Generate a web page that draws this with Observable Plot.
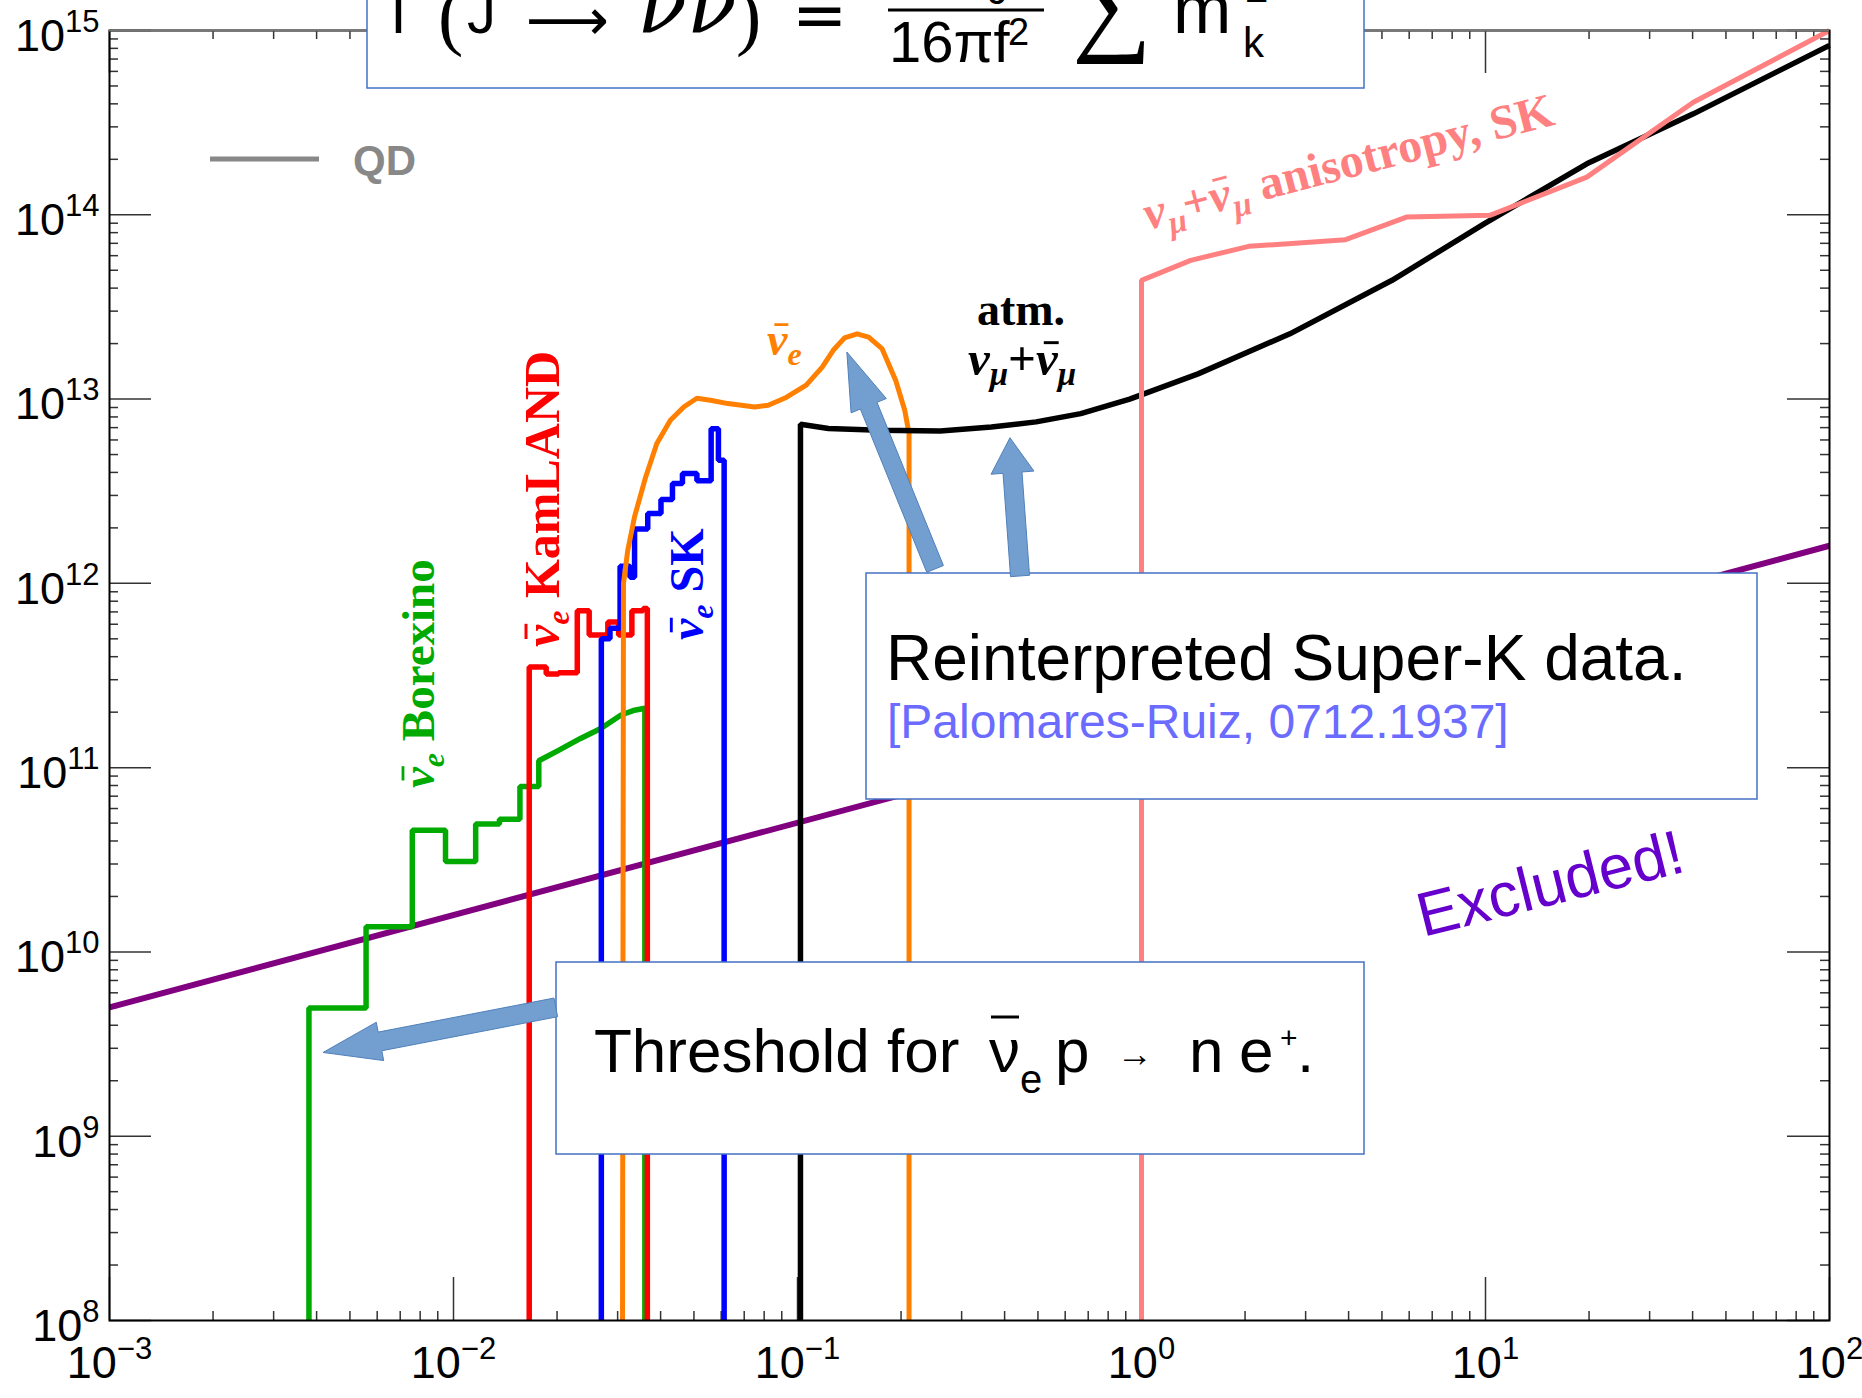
<!DOCTYPE html>
<html><head><meta charset="utf-8">
<script src="https://cdn.jsdelivr.net/npm/d3@7"></script>
<script src="https://cdn.jsdelivr.net/npm/@observablehq/plot@0.6"></script>
<style>
html,body{margin:0;padding:0;background:#fff;overflow:hidden;}
#chart{position:relative;width:1862px;height:1398px;}
</style></head><body><div id="chart"></div>
<script>
// ---------------- data ----------------
const xTicksMajor = [1e-3, 1e-2, 1e-1, 1, 10, 100];
const yTicksMajor = [1e8, 1e9, 1e10, 1e11, 1e12, 1e13, 1e14, 1e15];
const minorMultipliers = [2, 3, 4, 5, 6, 7, 8, 9];

// Excluded line (purple)
const excludedX = [1e-3, 1e2];
const excludedY = [5.0e9, 1.6e12];

// anti-nu_e Borexino (green)
const borexinoX = [3.8e-3,3.8e-3,5.57e-3,5.57e-3,7.59e-3,7.59e-3,9.48e-3,9.48e-3,1.16e-2,1.16e-2,1.36e-2,1.36e-2,1.56e-2,1.56e-2,1.77e-2,1.77e-2,2.02e-2,2.34e-2,2.68e-2,3.07e-2,3.36e-2,3.6e-2,3.6e-2];
const borexinoY = [1e8,4.97e9,4.97e9,1.37e10,1.37e10,4.57e10,4.57e10,3.1e10,3.1e10,4.95e10,4.95e10,5.25e10,5.25e10,7.9e10,7.9e10,1.09e11,1.24e11,1.44e11,1.63e11,1.93e11,2.05e11,2.1e11,1e8];

// anti-nu_e KamLAND (red)
const kamlandX = [1.66e-2,1.66e-2,1.86e-2,1.86e-2,2.02e-2,2.02e-2,2.29e-2,2.29e-2,2.48e-2,2.48e-2,2.81e-2,2.81e-2,3.02e-2,3.02e-2,3.30e-2,3.30e-2,3.56e-2,3.56e-2,3.66e-2,3.66e-2];
const kamlandY = [1e8,3.52e11,3.52e11,3.22e11,3.22e11,3.27e11,3.27e11,7.1e11,7.1e11,5.24e11,5.24e11,6.18e11,6.18e11,5.24e11,5.24e11,7.1e11,7.1e11,7.3e11,7.3e11,1e8];

// anti-nu_e SK (blue)
const skX = [2.69e-2,2.69e-2,2.85e-2,2.85e-2,3.05e-2,3.05e-2,3.26e-2,3.26e-2,3.36e-2,3.36e-2,3.67e-2,3.67e-2,4.01e-2,4.01e-2,4.33e-2,4.33e-2,4.63e-2,4.63e-2,5.1e-2,5.1e-2,5.61e-2,5.61e-2,5.89e-2,5.89e-2,6.12e-2,6.12e-2];
const skY = [1e8,5.0e11,5.0e11,5.7e11,5.7e11,1.24e12,1.24e12,1.08e12,1.08e12,1.97e12,1.97e12,2.39e12,2.39e12,2.85e12,2.85e12,3.48e12,3.48e12,3.94e12,3.94e12,3.6e12,3.6e12,6.9e12,6.9e12,4.66e12,4.66e12,1e8];

// reinterpreted anti-nu_e (orange)
const nuebarX = [3.1e-2,3.12e-2,3.21e-2,3.36e-2,3.62e-2,3.90e-2,4.27e-2,4.67e-2,5.10e-2,5.58e-2,6.28e-2,7.51e-2,8.22e-2,9.27e-2,0.106,0.118,0.127,0.137,0.149,0.161,0.176,0.193,0.205,0.211,0.211];
const nuebarY = [1e8,1.0e12,1.51e12,2.3e12,3.78e12,5.74e12,7.67e12,9.06e12,1.01e13,9.86e12,9.45e12,9.06e12,9.25e12,1.02e13,1.19e13,1.49e13,1.84e13,2.15e13,2.26e13,2.17e13,1.88e13,1.26e13,8.7e12,6.5e12,1e8];

// atm. nu_mu + anti-nu_mu (black)
const atmX = [0.102,0.102,0.123,0.173,0.26,0.366,0.494,0.666,0.924,1.46,2.7,5.35,9.93,19.7,40.2,100];
const atmY = [1e8,7.3e12,6.92e12,6.78e12,6.72e12,7.06e12,7.52e12,8.34e12,1.0e13,1.37e13,2.26e13,4.41e13,8.95e13,1.89e14,3.53e14,8.3e14];

// nu_mu + anti-nu_mu anisotropy, SK (pink)
const anisoX = [1.0,1.0,1.39,2.05,3.92,5.89,10.3,19.7,40.2,100];
const anisoY = [1e8,4.41e13,5.66e13,6.74e13,7.33e13,9.72e13,9.93e13,1.6e14,4.08e14,1e15];

// arrows (tail, tip) in data coordinates
const arrowTails = [[1.99e-2, 4.97e9], [0.252, 1.19e12], [0.445, 1.09e12]];
const arrowTips  = [[4.19e-3, 2.83e9], [0.1396, 1.79e13], [0.416, 6.13e12]];

// ---------------- layout / styles ----------------
const W = 1862, H = 1398, mL = 109, mR = 33, mT = 30, mB = 78;
const fw = W - mL - mR, fh = H - mT - mB;

const seriesList = [
  {x: excludedX, y: excludedY, stroke: "#800080", w: 6},
  {x: borexinoX, y: borexinoY, stroke: "#00aa00", w: 5.5},
  {x: kamlandX, y: kamlandY, stroke: "#ff0000", w: 5.5},
  {x: skX, y: skY, stroke: "#0000ff", w: 5.5},
  {x: nuebarX, y: nuebarY, stroke: "#ff8000", w: 5},
  {x: atmX, y: atmY, stroke: "#000000", w: 5.5},
  {x: anisoX, y: anisoY, stroke: "#ff8080", w: 5}
];

const xTicksMinor = xTicksMajor.slice(0, -1).flatMap(d => minorMultipliers.map(m => m * d));
const yTicksMinor = yTicksMajor.slice(0, -1).flatMap(d => minorMultipliers.map(m => m * d));
const tickStroke = {stroke: "#333", strokeWidth: 1.5};
const expFormat = d => "10^" + Math.round(Math.log10(d));

const marks = [];
for (const [vals, len] of [[xTicksMajor, 43], [xTicksMinor, 9]]) {
  marks.push(Plot.tickX(vals, {x: d => d, insetTop: fh - len, ...tickStroke}));
  marks.push(Plot.tickX(vals, {x: d => d, insetBottom: fh - len, ...tickStroke}));
}
for (const [vals, len] of [[yTicksMajor, 42], [yTicksMinor, 9]]) {
  marks.push(Plot.tickY(vals, {y: d => d, insetRight: fw - len, ...tickStroke}));
  marks.push(Plot.tickY(vals, {y: d => d, insetLeft: fw - len, ...tickStroke}));
}
for (const s of seriesList) {
  marks.push(Plot.line(s.x.map((x, i) => [x, s.y[i]]), {
    x: d => d[0], y: d => d[1], stroke: s.stroke, strokeWidth: s.w,
    strokeLinejoin: "miter", strokeLinecap: "butt"
  }));
}
marks.push(Plot.frame({stroke: "#000", strokeWidth: 2}));
marks.push(Plot.ruleY([1e15], {stroke: "#777", strokeWidth: 2}));
marks.push(Plot.axisX(xTicksMajor, {anchor: "bottom", tickSize: 0, tickPadding: 26, tickFormat: expFormat, fontSize: 45, label: null}));
marks.push(Plot.axisY(yTicksMajor, {anchor: "left", tickSize: 0, tickPadding: 10, tickFormat: expFormat, fontSize: 45, dy: 6, label: null}));

const chart = Plot.plot({
  width: W, height: H,
  marginLeft: mL, marginRight: mR, marginTop: mT, marginBottom: mB,
  x: {type: "log", domain: [1e-3, 1e2]},
  y: {type: "log", domain: [1e8, 1e15]},
  style: {fontFamily: "'Liberation Sans', Arial, sans-serif", background: "white", color: "black", overflow: "hidden"},
  marks
});
document.getElementById("chart").append(chart);

// ---------------- superscript tick labels ----------------
const NS = "http://www.w3.org/2000/svg";
chart.querySelectorAll('g[aria-label$="tick label"] text').forEach(t => {
  const [b, e] = t.textContent.split("^");
  if (e === undefined) return;
  t.textContent = "";
  const t1 = document.createElementNS(NS, "tspan"); t1.textContent = b; t.append(t1);
  const t2 = document.createElementNS(NS, "tspan");
  t2.setAttribute("font-size", "31"); t2.setAttribute("dy", "-19");
  t2.textContent = e.replace("-", "\u2212"); t.append(t2);
});

// ---------------- annotations ----------------
const svg = d3.select(chart);
const xs = chart.scale("x"), ys = chart.scale("y");
const ann = svg.append("g").attr("text-anchor", "start");
const SANS = "'Liberation Sans', Arial, sans-serif";
const SERIF = "'Liberation Serif', 'Times New Roman', serif";

// rich text: parts may carry {bar:true} to draw an over-bar above that part
function rich(parent, {x, y, rotate = 0, anchor = "start", family = SERIF, size = 46, weight = "bold", fill = "#000"}, parts) {
  const g = parent.append("g").attr("transform", `translate(${x},${y}) rotate(${rotate})`);
  const t = g.append("text").attr("text-anchor", anchor).attr("font-family", family)
    .attr("font-size", size).attr("font-weight", weight).attr("fill", fill);
  let cur = 0, idx = 0;
  const bars = [];
  for (const p of parts) {
    const sh = p.shift || 0;
    const ts = t.append("tspan").text(p.t).attr("dy", sh - cur);
    cur = sh;
    if (p.size) ts.attr("font-size", p.size);
    if (p.style) ts.attr("font-style", p.style);
    if (p.weight) ts.attr("font-weight", p.weight);
    if (p.family) ts.attr("font-family", p.family);
    if (p.bar) bars.push({idx, size: p.size || size, shift: sh});
    idx += p.t.length;
  }
  for (const b of bars) {
    const ext = t.node().getExtentOfChar(b.idx);
    const s = b.size;
    g.append("line")
      .attr("x1", ext.x + 0.16 * s).attr("x2", ext.x + ext.width + 0.02 * s)
      .attr("y1", b.shift - 0.66 * s).attr("y2", b.shift - 0.66 * s)
      .attr("stroke", fill).attr("stroke-width", 0.06 * s);
  }
  return t;
}
const NU = "\u03BD", MU = "\u03BC";
const nuebarParts = (rest) => [{t: NU, style: "italic", bar: true}, {t: "e", style: "italic", size: 32, shift: 10}, {t: rest, shift: 0}];
const numuParts = [{t: NU, style: "italic"}, {t: MU, style: "italic", size: 33, shift: 10}, {t: "+", shift: 0},
  {t: NU, style: "italic", bar: true}, {t: MU, style: "italic", size: 33, shift: 10}];

// boxes
const boxStroke = "#4472c4";
ann.append("rect").attr("x", 367).attr("y", -20).attr("width", 997).attr("height", 108)
  .attr("fill", "#fff").attr("stroke", boxStroke).attr("stroke-width", 1.5);
ann.append("rect").attr("x", 866).attr("y", 573).attr("width", 891).attr("height", 226)
  .attr("fill", "#fff").attr("stroke", boxStroke).attr("stroke-width", 1.5);
ann.append("rect").attr("x", 556).attr("y", 962).attr("width", 808).attr("height", 192)
  .attr("fill", "#fff").attr("stroke", boxStroke).attr("stroke-width", 1.5);

// block arrows
const arrowShape = [[19, 39, 58], [18, 38, 58], [19, 43, 35]];
arrowTails.forEach((tl, i) => {
  const a = [xs.apply(tl[0]), ys.apply(tl[1])];
  const b = [xs.apply(arrowTips[i][0]), ys.apply(arrowTips[i][1])];
  const [sw, hw, hl] = arrowShape[i];
  const L = Math.hypot(b[0] - a[0], b[1] - a[1]);
  const ux = (b[0] - a[0]) / L, uy = (b[1] - a[1]) / L, nx = -uy, ny = ux;
  const bx = b[0] - ux * hl, by = b[1] - uy * hl;
  const pts = [
    [a[0] + nx * sw / 2, a[1] + ny * sw / 2], [bx + nx * sw / 2, by + ny * sw / 2], [bx + nx * hw / 2, by + ny * hw / 2],
    b, [bx - nx * hw / 2, by - ny * hw / 2], [bx - nx * sw / 2, by - ny * sw / 2], [a[0] - nx * sw / 2, a[1] - ny * sw / 2]
  ];
  ann.append("polygon").attr("points", pts.map(p => p.join(",")).join(" "))
    .attr("fill", "#729fcf").attr("stroke", "#5080bb").attr("stroke-width", 1);
});

// formula (top box, partly cut off)
const F = ann.append("g").attr("font-family", SANS).attr("fill", "#000");
const DJ = "'DejaVu Sans', sans-serif";
const fparts = [
  {t: "\u0393", x: 391, y: 33, size: 58},
  {t: "(", x: 438, y: 41, size: 76, family: SERIF},
  {t: "J", x: 467, y: 33, size: 58},
  {t: "\u27F6", x: 526, y: 40, size: 58, family: DJ},
  {t: NU + NU, x: 637, y: 33, size: 82, family: "'DejaVu Serif', serif", style: "italic"},
  {t: ")", x: 736, y: 41, size: 76, family: SERIF},
  {t: "=", x: 792, y: 37, size: 66, family: DJ},
  {t: "m", x: 948, y: -8, size: 58},
  {t: "J", x: 988, y: 4, size: 40},
  {t: "16\u03C0f", x: 889, y: 62, size: 58},
  {t: "2", x: 1008, y: 45, size: 38},
  {t: "\u2211", x: 1072, y: 40, size: 112, family: SERIF},
  {t: "m", x: 1173, y: 33, size: 70},
  {t: "k", x: 1243, y: 57, size: 42},
  {t: "2", x: 1245, y: 2, size: 42}
];
for (const p of fparts) {
  const t = F.append("text").attr("x", p.x).attr("y", p.y).attr("font-size", p.size).text(p.t);
  if (p.family) t.attr("font-family", p.family);
  if (p.style) t.attr("font-style", p.style);
}
F.append("line").attr("x1", 888).attr("x2", 1044).attr("y1", 10).attr("y2", 10).attr("stroke", "#000").attr("stroke-width", 3);

// box texts
ann.append("text").attr("x", 886).attr("y", 680).attr("font-family", SANS).attr("font-size", 64).attr("fill", "#000")
  .text("Reinterpreted Super-K data.");
ann.append("text").attr("x", 887).attr("y", 738).attr("font-family", SANS).attr("font-size", 48).attr("fill", "#6b6bff")
  .text("[Palomares-Ruiz, 0712.1937]");

const T = ann.append("g").attr("font-family", SANS).attr("fill", "#000");
const tparts = [
  {t: "Threshold for", x: 594, y: 1072, size: 62},
  {t: NU, x: 989, y: 1072, size: 62},
  {t: "e", x: 1020, y: 1093, size: 40},
  {t: "p", x: 1055, y: 1072, size: 62},
  {t: "\u2192", x: 1117, y: 1066, size: 36},
  {t: "n", x: 1189, y: 1072, size: 62},
  {t: "e", x: 1239, y: 1072, size: 62},
  {t: "+", x: 1280, y: 1048, size: 30},
  {t: ".", x: 1297, y: 1072, size: 62}
];
for (const p of tparts) T.append("text").attr("x", p.x).attr("y", p.y).attr("font-size", p.size).text(p.t);
T.append("line").attr("x1", 991).attr("x2", 1019).attr("y1", 1017).attr("y2", 1017).attr("stroke", "#000").attr("stroke-width", 3);

// legend QD
ann.append("line").attr("x1", 210).attr("x2", 319).attr("y1", 159).attr("y2", 159).attr("stroke", "#888").attr("stroke-width", 5);
ann.append("text").attr("x", 353).attr("y", 175).attr("font-family", SANS).attr("font-weight", "bold")
  .attr("font-size", 42).attr("fill", "#888").text("QD");

// curve labels
rich(ann, {x: 434, y: 788, rotate: -90, size: 47, fill: "#00aa00"}, nuebarParts(" Borexino"));
rich(ann, {x: 559, y: 647, rotate: -90, size: 50, fill: "#ff0000"}, nuebarParts(" KamLAND"));
rich(ann, {x: 703, y: 640, rotate: -90, size: 48, fill: "#0000ff"}, nuebarParts(" SK"));
rich(ann, {x: 767, y: 355, size: 46, fill: "#ff8000"}, [{t: NU, style: "italic", bar: true}, {t: "e", style: "italic", size: 32, shift: 10}]);
rich(ann, {x: 1021, y: 325, anchor: "middle", size: 46}, [{t: "atm."}]);
rich(ann, {x: 1022, y: 375, anchor: "middle", size: 49}, numuParts);
rich(ann, {x: 1148, y: 230, rotate: -14.5, size: 48, fill: "#ff8080"}, [...numuParts, {t: " anisotropy, SK", shift: 0}]);
rich(ann, {x: 1423, y: 937, rotate: -14, family: SANS, weight: "normal", size: 62, fill: "#6600cc"}, [{t: "Excluded!"}]);
</script></body></html>
